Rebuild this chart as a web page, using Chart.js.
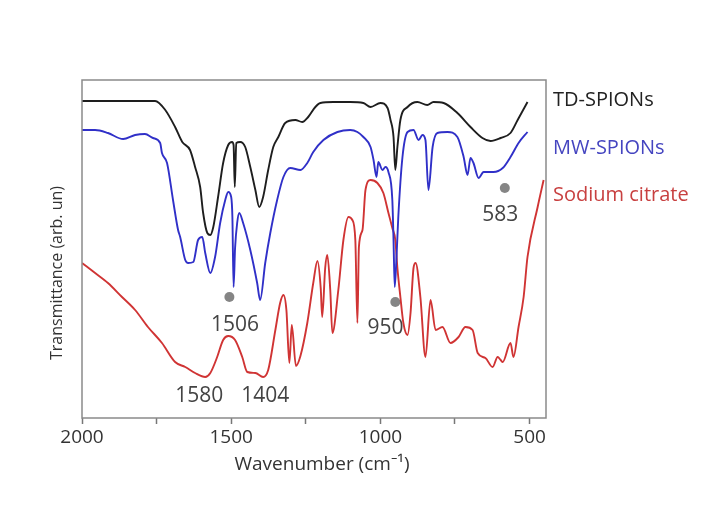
<!DOCTYPE html>
<html>
<head>
<meta charset="utf-8">
<script src="https://cdn.jsdelivr.net/npm/chart.js@4.4.1/dist/chart.umd.min.js"></script>
<style>
  html, body { margin: 0; padding: 0; background: #fff; }
  #wrap { width: 705px; height: 513px; position: relative; }
</style>
</head>
<body>
<div id="wrap"><canvas id="c" width="705" height="513"></canvas></div>
<script>
/* FTIR spectra: TD-SPIONs, MW-SPIONs, sodium citrate. Y is arbitrary (offset) transmittance. */

// x-axis tick labels (wavenumber, reversed axis)
const tickVals = [2000, 1750, 1500, 1250, 1000, 750, 500];
const tickLabels = ["2000", "", "1500", "", "1000", "", "500"];

// TD-SPIONs (black)
const tdWn = [2000, 1755, 1721, 1688, 1664, 1638, 1621, 1604, 1594, 1580, 1570, 1560, 1544, 1527, 1510, 1497, 1492,
  1488, 1483, 1470, 1453, 1436, 1419, 1406, 1393, 1376, 1359, 1342, 1319, 1285, 1262, 1242, 1218, 1201, 1158, 1101,
  1057, 1033, 1000, 976, 966, 956, 950, 943, 933, 909, 876, 843, 822, 788, 742, 698, 658, 631, 597, 564, 540, 507];
const tdY = [317, 317, 308, 291, 276, 268, 251, 231, 205, 185, 183, 191, 221, 255, 273, 276, 273,
  231, 275, 276, 271, 251, 228, 211, 221, 248, 271, 281, 295, 298, 296, 301, 311, 315, 316, 316,
  315, 311, 315, 310, 298, 281, 248, 271, 298, 311, 316, 313, 316, 315, 305, 291, 280, 277, 280, 285, 298, 316];

// MW-SPIONs (blue)
const mwWn = [2000, 1956, 1913, 1862, 1822, 1789, 1762, 1738, 1732, 1715, 1695, 1678, 1671, 1654, 1644, 1627, 1611,
  1597, 1587, 1570, 1554, 1537, 1520, 1510, 1500, 1496, 1492, 1487, 1480, 1473, 1460, 1436, 1413, 1403, 1386, 1369,
  1346, 1325, 1302, 1268, 1245, 1225, 1191, 1144, 1101, 1077, 1057, 1033, 1023, 1013, 1007, 993, 983, 973, 960, 956,
  952, 946, 940, 926, 909, 889, 872, 859, 849, 839, 825, 809, 775, 742, 721, 708, 698, 688, 671, 654, 621, 590,
  564, 537, 507];
const mwY = [288, 288, 285, 279, 283, 284, 280, 275, 265, 255, 218, 188, 181, 158, 155, 156, 178,
  181, 165, 145, 161, 195, 218, 226, 221, 201, 131, 170, 195, 205, 195, 168, 135, 118, 155, 185,
  218, 241, 250, 248, 255, 266, 278, 286, 288, 286, 281, 271, 258, 241, 256, 248, 251, 246, 218, 178,
  131, 161, 201, 261, 286, 288, 278, 283, 278, 228, 271, 285, 286, 281, 261, 243, 260, 255, 240, 246, 246, 250,
  261, 275, 286];

// Sodium citrate (red)
const scWn = [2000, 1956, 1913, 1866, 1822, 1779, 1732, 1688, 1654, 1621, 1587, 1570, 1547, 1527, 1510, 1487, 1463,
  1446, 1419, 1393, 1376, 1352, 1336, 1325, 1315, 1305, 1297, 1283, 1268, 1245, 1225, 1211, 1200, 1195, 1185, 1178,
  1168, 1161, 1141, 1124, 1107, 1094, 1084, 1077, 1072, 1060, 1050, 1033, 1010, 990, 973, 960, 950, 943, 933, 923,
  909, 899, 889, 882, 866, 849, 832, 815, 792, 765, 738, 715, 691, 674, 648, 624, 607, 597, 590, 564, 554, 537, 520,
  507, 473, 453];
const scY = [155, 145, 135, 121, 108, 91, 75, 56, 51, 45, 41, 45, 61, 78, 82, 78, 61,
  46, 45, 41, 48, 88, 115, 123, 108, 55, 93, 52, 62, 95, 135, 157, 130, 101, 150, 163,
  128, 85, 128, 178, 201, 198, 178, 95, 171, 188, 228, 238, 235, 225, 205, 190, 178, 150, 121, 95,
  83, 105, 150, 155, 121, 61, 118, 88, 91, 75, 81, 91, 88, 65, 60, 51, 61, 58, 56, 75, 61, 91, 121,
  161, 211, 238];

// marked peaks (grey dots) and peak labels
const dotWn = [1506, 950, 583];
const dotY = [121, 116, 230];
const peakText = ["1506", "950", "583", "1580", "1404"];
const peakWn = [1487, 983, 598, 1607, 1386];
const peakY = [93, 90, 203, 22, 22];

const seriesNames = ["TD-SPIONs", "MW-SPIONs", "Sodium citrate"];
const seriesColors = ["#1e1e1e", "#3030c8", "#d03434"];
const labelColors = ["#222222", "#4545c0", "#c84040"];

const FONT = "'Open Sans', 'Noto Sans', sans-serif";
const pts = (xs, ys) => xs.map((x, i) => ({ x, y: ys[i] }));
const lineDs = (i, xs, ys) => ({
  label: seriesNames[i], data: pts(xs, ys), borderColor: seriesColors[i],
  borderWidth: 1.9, pointRadius: 0, cubicInterpolationMode: "monotone", fill: false,
});

// frame box, axis titles, right-hand series names, peak labels
const decor = {
  id: "decor",
  afterDraw(chart) {
    const { ctx, chartArea: a, scales: { x, y } } = chart;
    ctx.save();
    ctx.strokeStyle = "#8a8a8a";
    ctx.lineWidth = 1.5;
    ctx.strokeRect(a.left, a.top, a.right - a.left, a.bottom - a.top);
    ctx.textBaseline = "middle";
    ctx.fillStyle = "#333";
    ctx.textAlign = "center";
    ctx.font = "19px " + FONT;
    ctx.fillText("Wavenumber (cm⁻¹)", 322, 465);
    ctx.save();
    ctx.translate(57, 273);
    ctx.rotate(-Math.PI / 2);
    ctx.font = "16px " + FONT;
    ctx.fillText("Transmittance (arb. un)", 0, 0);
    ctx.restore();
    ctx.font = "20px " + FONT;
    ctx.textAlign = "left";
    [100, 148, 195].forEach((ty, i) => {
      ctx.fillStyle = labelColors[i];
      ctx.fillText(seriesNames[i], 553, ty);
    });
    ctx.fillStyle = "#444";
    ctx.textAlign = "center";
    ctx.font = "21px " + FONT;
    peakText.forEach((t, i) => ctx.fillText(t, x.getPixelForValue(peakWn[i]), y.getPixelForValue(peakY[i])));
    ctx.restore();
  },
};

new Chart(document.getElementById("c"), {
  type: "line",
  data: {
    datasets: [
      lineDs(0, tdWn, tdY),
      lineDs(1, mwWn, mwY),
      lineDs(2, scWn, scY),
      { type: "scatter", label: "peaks", data: pts(dotWn, dotY), pointRadius: 5,
        pointBackgroundColor: "#858585", pointBorderWidth: 0, showLine: false },
    ],
  },
  options: {
    responsive: false, animation: false,
    layout: { padding: { top: 80, right: 159, left: 0, bottom: 0 } },
    plugins: { legend: { display: false }, tooltip: { enabled: false } },
    scales: {
      x: {
        type: "linear", reverse: true, min: 445, max: 2000,
        afterBuildTicks: s => { s.ticks = tickVals.map(v => ({ value: v })); },
        afterFit: s => { s.height = 95; },
        ticks: { callback: (v) => tickLabels[tickVals.indexOf(v)], autoSkip: false, maxRotation: 0,
          color: "#333", font: { family: FONT, size: 19 }, padding: 2 },
        grid: { drawOnChartArea: false, drawTicks: true, tickLength: 6, color: "#777", tickWidth: 1.5 },
        border: { display: false },
      },
      y: {
        min: 0, max: 338,
        afterFit: s => { s.width = 82; },
        ticks: { display: false },
        grid: { display: false },
        border: { display: false },
      },
    },
  },
  plugins: [decor],
});
</script>
</body>
</html>
